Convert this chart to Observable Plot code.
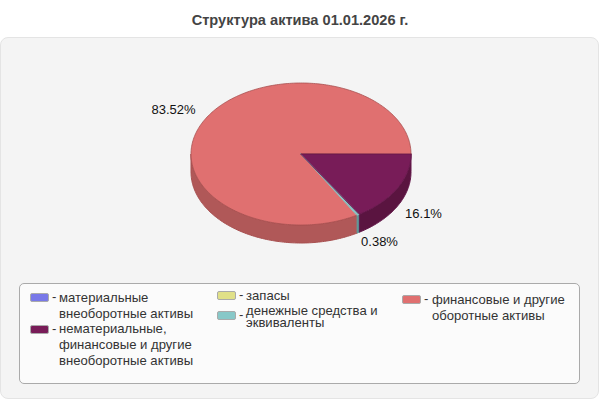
<!DOCTYPE html>
<html><head><meta charset="utf-8">
<script src="https://cdn.jsdelivr.net/npm/d3@7"></script>
<script src="https://cdn.jsdelivr.net/npm/@observablehq/plot@0.6"></script>
<style>
html,body{margin:0;padding:0;background:#fff;overflow:hidden}
#stage{position:relative;width:600px;height:400px;font-family:"Liberation Sans",Arial,sans-serif}
#title{position:absolute;left:0;top:13px;width:600px;text-align:center;font-weight:bold;font-size:14.6px;line-height:14px;color:#444}
#panel{position:absolute;left:0;top:37px;width:597px;height:360px;background:#f4f4f4;border:1px solid #e4e4e4;border-radius:8px}
#legend{position:absolute;left:19px;top:283px;width:559px;height:99px;background:#fbfbfb;border:1px solid #aaa;border-radius:5px}
#plot{position:absolute;left:0;top:0}
.sw{position:absolute;width:17px;height:7px;border:1px solid #aaa;border-radius:2px}
.d,.t{position:absolute;font-size:13.1px;color:#333;white-space:nowrap;overflow:visible}
</style></head><body>
<div id="stage">
  <div id="title">Структура актива 01.01.2026 г.</div>
  <div id="panel"></div>
  <div id="legend"></div>
  <div id="plot"></div>
</div>
<script>
const categories=["материальные внеоборотные активы","нематериальные, финансовые и другие внеоборотные активы","запасы","денежные средства и эквиваленты","финансовые и другие оборотные активы"];
const values=[0,16.1,0,0.38,83.52];
const topColors=["#7878e8","#781c58","#e0e088","#88c8c8","#e07070"];
const sideColors=["#5c5cb4","#5a1440","#aeae68","#5f9c9c","#b05858"];
const edgeColors=["#5050a0","#64174a","#a0a060","#5f9c9c","#a85050"];
const labels=[null,"16.1%",null,"0.38%","83.52%"];
const legendLines=[["материальные","внеоборотные активы"],["нематериальные,","финансовые и другие","внеоборотные активы"],["запасы"],["денежные средства и","эквиваленты"],["финансовые и другие","оборотные активы"]];

// layout
const legendLayout=[
  {sx:30,sy:293,tx:59,ty:290,lh:16},
  {sx:30,sy:325,tx:59,ty:321,lh:16},
  {sx:217,sy:291,tx:246,ty:288,lh:16},
  {sx:217,sy:311,tx:246,ty:305,lh:12},
  {sx:402,sy:295,tx:432,ty:292,lh:16}
];
const labelOffset={1:[423,213],3:[379,241],4:[173,109]};
const depth=18/71;

let acc=0;
const slices=values.map((v,i)=>{const a0=acc/100*2*Math.PI;acc+=v;return {i,a0,a1:acc/100*2*Math.PI,v};}).filter(s=>s.v>0);
function arcPts(a0,a1){const n=Math.max(2,Math.ceil((a1-a0)/0.02));return d3.range(n+1).map(k=>{const a=a0+(a1-a0)*k/n;return [Math.cos(a),Math.sin(a)];});}
const walls=[],tops=[];
slices.forEach(s=>{
  const vis0=Math.max(s.a0,0),vis1=Math.min(s.a1,Math.PI);
  if(vis1>vis0){
    const arc=arcPts(vis0,vis1);
    const poly=[...arc,...arc.slice().reverse().map(([x,y])=>[x,y+depth])];
    poly.forEach(([x,y])=>walls.push({x,y,k:s.i}));
  }
  [[0,0],...arcPts(s.a0,s.a1)].forEach(([x,y])=>tops.push({x,y,k:s.i}));
});
const drawOrder=[4,3,1];
const marks=[];
drawOrder.forEach(k=>{
  const w=walls.filter(d=>d.k===k);
  if(w.length)marks.push(Plot.line(w,{x:"x",y:"y",curve:"linear-closed",fill:sideColors[k],stroke:k===3?sideColors[k]:edgeColors[k],strokeWidth:1}));
});
drawOrder.forEach(k=>{
  marks.push(Plot.line(tops.filter(d=>d.k===k),{x:"x",y:"y",curve:"linear-closed",fill:topColors[k],stroke:k===3?topColors[k]:edgeColors[k],strokeWidth:k===3?1:0.8}));
});
const rx=110,ry=71,cx=300.5,cy=153.5;
const xr=[cx-rx,cx+rx],yr=[cy-ry,cy+ry];
const labelData=labels.map((t,i)=>t&&{t,x:(labelOffset[i][0]-cx)/rx,y:(labelOffset[i][1]-cy)/ry}).filter(Boolean);
marks.push(Plot.text(labelData,{x:"x",y:"y",text:"t",fill:"#111",fontSize:13,fontFamily:"Liberation Sans"}));
const svg=Plot.plot({width:600,height:400,margin:0,
  x:{domain:[-1,1],range:xr,axis:null},
  y:{domain:[-1,1],range:yr,axis:null},
  style:{background:"transparent",overflow:"visible"},
  marks});
document.getElementById("plot").append(svg);

const stage=document.getElementById("stage");
legendLayout.forEach((p,i)=>{
  const sw=document.createElement("div");sw.className="sw";sw.style.left=p.sx+"px";sw.style.top=p.sy+"px";sw.style.background=topColors[i];stage.append(sw);
  const dash=document.createElement("div");dash.className="d";dash.textContent="-";dash.style.left=(p.sx+22)+"px";dash.style.top=(p.sy-4)+"px";stage.append(dash);
  legendLines[i].forEach((line,j)=>{
    const t=document.createElement("div");t.className="t";t.style.left=p.tx+"px";t.style.top=(p.ty+j*p.lh)+"px";t.style.height=p.lh+"px";t.style.lineHeight=p.lh+"px";t.textContent=line;stage.append(t);
  });
});
</script>
</body></html>
